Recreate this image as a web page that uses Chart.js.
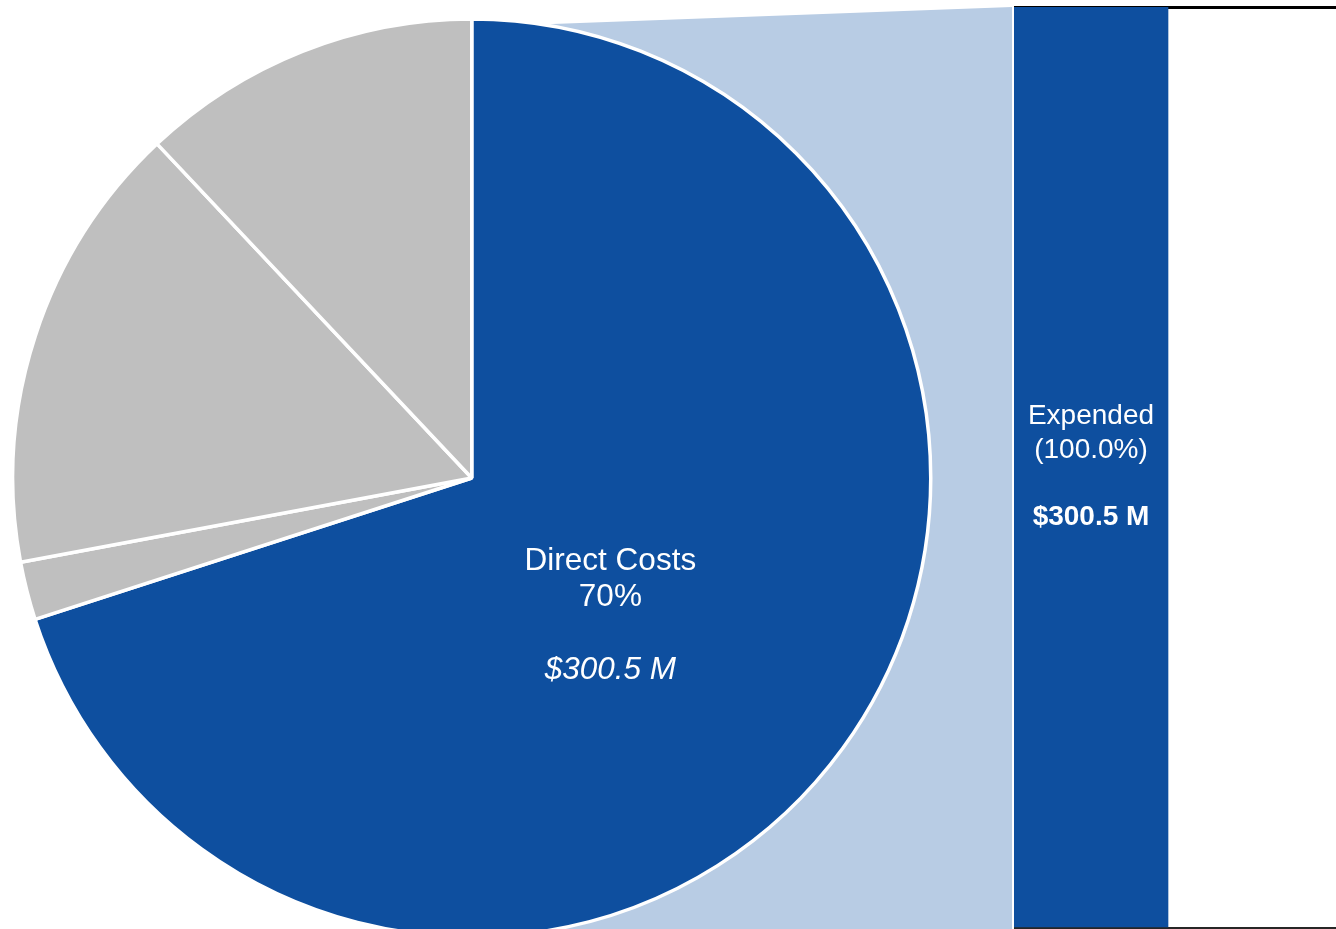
<!DOCTYPE html>
<html>
<head>
<meta charset="utf-8">
<script src="https://cdn.jsdelivr.net/npm/chart.js@4.4.1/dist/chart.umd.min.js"></script>
<style>
  html, body { margin: 0; padding: 0; background: #fff; overflow: hidden; }
  #wrap { position: relative; width: 1336px; height: 929px; overflow: hidden; }
  #pieChart { position: absolute; left: 0; top: 0; }
  #barChart { position: absolute; left: 1014px; top: 0; }
</style>
</head>
<body>
<div id="wrap">
  <canvas id="pieChart" width="1336" height="958"></canvas>
  <canvas id="barChart" width="462" height="929"></canvas>
</div>
<script>
const pieLabels = ["Direct Costs", "Other A", "Other B", "Other C"];
const pieValues = [300.5, 8.8, 68.3, 51.6];
const barLabels = ["Expended", "", ""];
const barValues = [300.5];

const colors = { blue: "#0E4F9F", gray: "#BFBFBF", link: "#B8CCE4" };
const fontFamily = "'Liberation Sans', Arial, sans-serif";

const fmtM = (v) => "$" + v.toFixed(1) + " M";

// text inside the expended bar
const barText = {
  id: "barText",
  afterDatasetsDraw(chart) {
    const bar = chart.getDatasetMeta(0).data[0];
    const ctx = chart.ctx;
    const pct = (barValues[0] / pieValues[0]) * 100;
    const cy = (bar.y + bar.base) / 2;
    const lh = 33.5;
    ctx.save();
    ctx.fillStyle = "#fff";
    ctx.textAlign = "center";
    ctx.textBaseline = "middle";
    ctx.font = "28px " + fontFamily;
    ctx.fillText(barLabels[0], bar.x, cy - 1.5 * lh);
    ctx.fillText("(" + pct.toFixed(1) + "%)", bar.x, cy - 0.5 * lh);
    ctx.font = "bold 28px " + fontFamily;
    ctx.fillText(fmtM(barValues[0]), bar.x, cy + 1.5 * lh);
    ctx.restore();
  },
};

const barChart = new Chart(document.getElementById("barChart"), {
  type: "bar",
  data: {
    labels: barLabels,
    datasets: [
      {
        data: barValues,
        backgroundColor: colors.blue,
        borderWidth: 0,
        categoryPercentage: 1,
        barPercentage: 1,
      },
    ],
  },
  options: {
    responsive: false,
    animation: false,
    layout: { padding: { top: 7, bottom: 1, left: 0, right: 0 } },
    plugins: { legend: { display: false }, tooltip: { enabled: false } },
    scales: {
      x: { display: false },
      y: {
        min: 0,
        max: barValues[0],
        z: 1,
        border: { display: false },
        ticks: { display: false, stepSize: barValues[0] },
        grid: {
          drawTicks: false,
          color: (c) => (c.index === 0 ? "#262626" : "#000"),
          lineWidth: (c) => (c.index === 0 ? 2 : 3),
        },
      },
    },
  },
  plugins: [barText],
});

// connector band behind the pie + slice label
const pieExtras = {
  id: "pieExtras",
  beforeDatasetsDraw(chart) {
    const arc = chart.getDatasetMeta(0).data[0];
    const bar = barChart.getDatasetMeta(0).data[0];
    const left = barChart.canvas.offsetLeft + bar.x - bar.width / 2 - 2;
    const top = barChart.chartArea.top;
    const ctx = chart.ctx;
    ctx.save();
    ctx.fillStyle = colors.link;
    ctx.beginPath();
    ctx.moveTo(arc.x, arc.y - arc.outerRadius + 8);
    ctx.lineTo(left, top);
    ctx.lineTo(left, chart.height);
    ctx.lineTo(arc.x, chart.height);
    ctx.closePath();
    ctx.fill();
    ctx.restore();
  },
  afterDatasetsDraw(chart) {
    const arc = chart.getDatasetMeta(0).data[0];
    const total = pieValues.reduce((a, b) => a + b, 0);
    const r = arc.outerRadius;
    const x = arc.x + 0.302 * r;
    const y = arc.y + 0.3 * r;
    const lh = 36.3;
    const ctx = chart.ctx;
    ctx.save();
    ctx.fillStyle = "#fff";
    ctx.textAlign = "center";
    ctx.textBaseline = "middle";
    ctx.font = "31.5px " + fontFamily;
    ctx.fillText(pieLabels[0], x, y - 1.5 * lh);
    ctx.fillText(Math.round((pieValues[0] / total) * 100) + "%", x, y - 0.5 * lh);
    ctx.font = "italic 31.5px " + fontFamily;
    ctx.fillText(fmtM(pieValues[0]), x, y + 1.5 * lh);
    ctx.restore();
  },
};

new Chart(document.getElementById("pieChart"), {
  type: "pie",
  data: {
    labels: pieLabels,
    datasets: [
      {
        data: pieValues,
        backgroundColor: [colors.blue, colors.gray, colors.gray, colors.gray],
        borderColor: "#fff",
        borderWidth: 3.5,
      },
    ],
  },
  options: {
    responsive: false,
    animation: false,
    radius: 459,
    layout: { padding: { left: 0, top: 0, right: 392.5, bottom: 2 } },
    plugins: { legend: { display: false }, tooltip: { enabled: false } },
  },
  plugins: [pieExtras],
});
</script>
</body>
</html>
